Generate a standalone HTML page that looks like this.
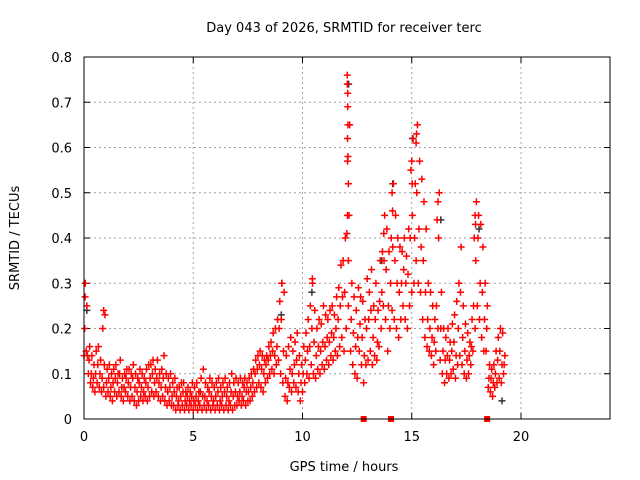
<!DOCTYPE html>
<html><head><meta charset="utf-8"><style>
body{margin:0;background:#fff}
svg{display:block;font-family:"DejaVu Sans","Liberation Sans",sans-serif}
</style></head><body>
<svg id="chart" width="640" height="480" viewBox="0 0 640 480" xmlns="http://www.w3.org/2000/svg">
<rect width="640" height="480" fill="#fff"/>
<text x="344" y="32" font-size="13" text-anchor="middle">Day 043 of 2026, SRMTID for receiver terc</text>
<text x="344" y="471" font-size="13" text-anchor="middle">GPS time / hours</text>
<text transform="translate(19,238) rotate(-90)" font-size="13" text-anchor="middle">SRMTID / TECUs</text>
<g id="grid"></g><g id="ticks"></g><g id="marks"></g>
<rect x="84" y="57" width="526" height="362" fill="none" stroke="#000" stroke-width="1"/>
</svg>
<script>
const xTicks=[0,5,10,15,20];
const yTicks=[0,0.1,0.2,0.3,0.4,0.5,0.6,0.7,0.8];
const yTickLabels=["0","0.1","0.2","0.3","0.4","0.5","0.6","0.7","0.8"];
const times=[0.0,0.1,0.2,0.3,0.4,0.5,0.6,0.7,0.8,0.9,1.0,1.1,1.2,1.3,1.4,1.5,1.6,1.7,1.8,1.9,2.0,2.1,2.2,2.3,2.4,2.5,2.6,2.7,2.8,2.9,3.0,3.1,3.2,3.3,3.4,3.5,3.6,3.7,3.8,3.9,4.0,4.1,4.2,4.3,4.4,4.5,4.6,4.7,4.8,4.9,5.0,5.1,5.2,5.3,5.4,5.5,5.6,5.7,5.8,5.9,6.0,6.1,6.2,6.3,6.4,6.5,6.6,6.7,6.8,6.9,7.0,7.1,7.2,7.3,7.4,7.5,7.6,7.7,7.8,7.9,8.0,8.1,8.2,8.3,8.4,8.5,8.6,8.7,8.8,8.9,9.0,9.1,9.2,9.3,9.4,9.5,9.6,9.7,9.8,9.9,10.0,10.1,10.2,10.3,10.4,10.5,10.6,10.7,10.8,10.9,11.0,11.1,11.2,11.3,11.4,11.5,11.6,11.7,11.8,11.9,12.0,12.1,12.2,12.3,12.4,12.5,12.6,12.7,12.8,12.9,13.0,13.1,13.2,13.3,13.4,13.5,13.6,13.7,13.8,13.9,14.0,14.1,14.2,14.3,14.4,14.5,14.6,14.7,14.8,14.9,15.0,15.1,15.2,15.3,15.4,15.5,15.6,15.7,15.8,15.9,16.0,16.1,16.2,16.3,16.4,16.5,16.6,16.7,16.8,16.9,17.0,17.1,17.2,17.3,17.4,17.5,17.6,17.7,17.8,17.9,18.0,18.1,18.2,18.3,18.4,18.5,18.6,18.7,18.8,18.9,19.0,19.1,19.2];
const lowVals=[.14,.15,.10,.08,.07,.06,.08,.07,.06,.07,.05,.06,.05,.04,.06,.05,.06,.05,.04,.06,.05,.04,.05,.04,.03,.04,.05,.04,.05,.04,.05,.06,.05,.06,.05,.04,.05,.04,.03,.04,.03,.03,.02,.03,.02,.03,.02,.03,.02,.03,.02,.03,.02,.03,.02,.03,.02,.03,.02,.03,.02,.03,.02,.03,.02,.03,.02,.03,.02,.03,.03,.04,.03,.04,.03,.04,.04,.05,.06,.07,.08,.07,.06,.08,.09,.10,.11,.10,.12,.13,.10,.08,.05,.04,.07,.06,.08,.07,.06,.04,.06,.08,.10,.09,.12,.10,.09,.11,.10,.12,.11,.13,.12,.14,.13,.15,.14,.16,.18,.15,.20,.25,.15,.12,.10,.09,.15,.12,.08,.12,.13,.15,.12,.14,.13,.16,.20,.25,.22,.15,.20,.24,.22,.20,.18,.22,.25,.22,.20,.25,.28,.30,.35,.30,.28,.22,.18,.16,.15,.14,.12,.15,.20,.13,.10,.08,.10,.09,.10,.11,.09,.12,.14,.12,.10,.09,.10,.12,.15,.20,.25,.22,.18,.15,.15,.07,.06,.05,.07,.08,.09,.08,.10];
const midVals=[.20,.25,.13,.10,.09,.10,.12,.10,.09,.12,.08,.09,.07,.08,.09,.08,.10,.07,.07,.09,.08,.07,.09,.07,.06,.08,.07,.06,.08,.07,.09,.10,.08,.09,.08,.07,.09,.07,.06,.07,.05,.06,.05,.04,.05,.06,.04,.05,.04,.05,.04,.05,.04,.06,.05,.05,.04,.06,.05,.04,.05,.06,.04,.05,.06,.05,.04,.06,.05,.06,.05,.06,.05,.07,.06,.06,.07,.08,.10,.11,.12,.11,.10,.12,.13,.14,.15,.14,.16,.20,.22,.15,.09,.08,.11,.10,.12,.13,.10,.08,.10,.13,.15,.16,.20,.17,.14,.16,.15,.17,.16,.18,.17,.19,.18,.20,.22,.25,.27,.28,.41,.45,.22,.19,.16,.18,.21,.18,.14,.20,.22,.24,.18,.22,.17,.26,.28,.35,.33,.25,.30,.38,.35,.30,.28,.30,.33,.30,.32,.40,.45,.40,.50,.42,.38,.35,.28,.22,.20,.18,.17,.25,.40,.20,.15,.13,.14,.13,.15,.17,.14,.20,.28,.18,.15,.13,.14,.16,.25,.35,.40,.30,.28,.22,.20,.09,.09,.08,.10,.13,.15,.12,.12];
const highVals=[.30,.14,.16,.14,.12,.15,.16,.13,.20,.23,.11,.12,.10,.11,.12,.10,.13,.09,.10,.11,.11,.10,.12,.10,.09,.11,.10,.09,.11,.12,.12,.13,.11,.13,.10,.11,.14,.10,.09,.10,.08,.09,.07,.07,.08,.08,.06,.07,.06,.08,.07,.08,.06,.09,.11,.08,.07,.09,.08,.07,.08,.09,.07,.08,.09,.07,.08,.10,.08,.09,.08,.09,.08,.09,.08,.09,.10,.11,.13,.14,.15,.14,.13,.14,.16,.17,.19,.20,.22,.26,.30,.28,.14,.16,.18,.15,.17,.19,.14,.12,.16,.19,.22,.25,.30,.24,.20,.22,.21,.25,.23,.22,.24,.25,.23,.27,.29,.34,.35,.40,.57,.65,.30,.27,.24,.29,.27,.26,.22,.31,.28,.33,.25,.30,.24,.35,.37,.45,.42,.37,.40,.52,.45,.40,.38,.37,.40,.36,.42,.55,.62,.52,.65,.57,.53,.48,.42,.30,.28,.25,.22,.44,.50,.28,.20,.18,.20,.17,.21,.23,.26,.30,.38,.25,.21,.19,.17,.22,.40,.48,.45,.43,.38,.30,.25,.12,.11,.12,.15,.18,.20,.19,.14];
const spikeTimes=[12.05,12.05,12.07,12.07,12.08,12.06,12.08,12.1,12.06,12.1,0.05,14.1,14.12,15.0,15.02,15.2,15.22,16.2,17.9,17.92,0.9,9.05,10.45,13.72];
const spikeVals=[.76,.74,.72,.69,.65,.62,.58,.52,.45,.35,.27,.50,.46,.57,.52,.61,.63,.48,.45,.43,.24,.30,.31,.41];
const greyTimes=[12.08,15.0,14.1,9.0,18.05,16.3,19.1,10.4,13.6,0.1];
const greyVals=[.74,.62,.52,.23,.42,.44,.04,.28,.35,.24];
const markerTimes=[12.8,14.05,18.45];

const NS="http://www.w3.org/2000/svg";
const X0=84,X1=608.4,Y0=419,Y1=57;
function xs(t){return X0+(X1-X0)*t/24;}
function ys(v){return Y0-(Y0-Y1)*v/0.8;}
function mk(tag,attrs,parent){const e=document.createElementNS(NS,tag);for(const k in attrs)e.setAttribute(k,attrs[k]);parent.appendChild(e);return e;}
const grid=document.getElementById('grid'),ticks=document.getElementById('ticks'),marks=document.getElementById('marks');
xTicks.forEach((t,i)=>{
  const x=xs(t);
  if(t>0){const g=mk('line',{x1:x,x2:x,y1:Y0,y2:Y1,stroke:'#a0a0a0','stroke-dasharray':'2,3'},grid);
  
  }
  mk('line',{x1:x,x2:x,y1:Y0,y2:Y0-6,stroke:'#000'},ticks);
  mk('line',{x1:x,x2:x,y1:Y1,y2:Y1+6,stroke:'#000'},ticks);
  const l=mk('text',{x:x,y:Y0+22,'font-size':13,'text-anchor':'middle'},ticks);l.textContent=String(t);
  
  
});
yTicks.forEach((v,i)=>{
  const y=ys(v);
  if(v>0&&v<0.8){const g=mk('line',{x1:X0,x2:610,y1:y,y2:y,stroke:'#a0a0a0','stroke-dasharray':'2,3'},grid);
  
  }
  mk('line',{x1:X0,x2:X0+6,y1:y,y2:y,stroke:'#000'},ticks);
  mk('line',{x1:610,x2:604,y1:y,y2:y,stroke:'#000'},ticks);
  const l=mk('text',{x:X0-12,y:y+5,'font-size':13,'text-anchor':'end'},ticks);l.textContent=yTickLabels[i];
  
  
});
function plus(t,v,color){
  const x=xs(t),y=ys(v);
  const p=mk('path',{d:`M${x-3.5} ${y}H${x+3.5}M${x} ${y-3.5}V${y+3.5}`,stroke:color,'stroke-width':1.5,fill:'none'},marks);
  return p;
}
greyTimes.forEach((t,i)=>{const p=plus(t+0.03,greyVals[i],'#333');
  
  });
[lowVals,midVals,highVals].forEach((arr,k)=>{
  times.forEach((t,i)=>{const p=plus(t+k*0.03,arr[i],'#ff0000');
    
    });
});
spikeTimes.forEach((t,i)=>{const p=plus(t,spikeVals[i],'#ff0000');
  
  });
markerTimes.forEach(t=>{const r=mk('rect',{x:xs(t)-3,y:Y0-3,width:6,height:6,fill:'#ff0000'},marks);
  
  });
</script>
</body></html>
